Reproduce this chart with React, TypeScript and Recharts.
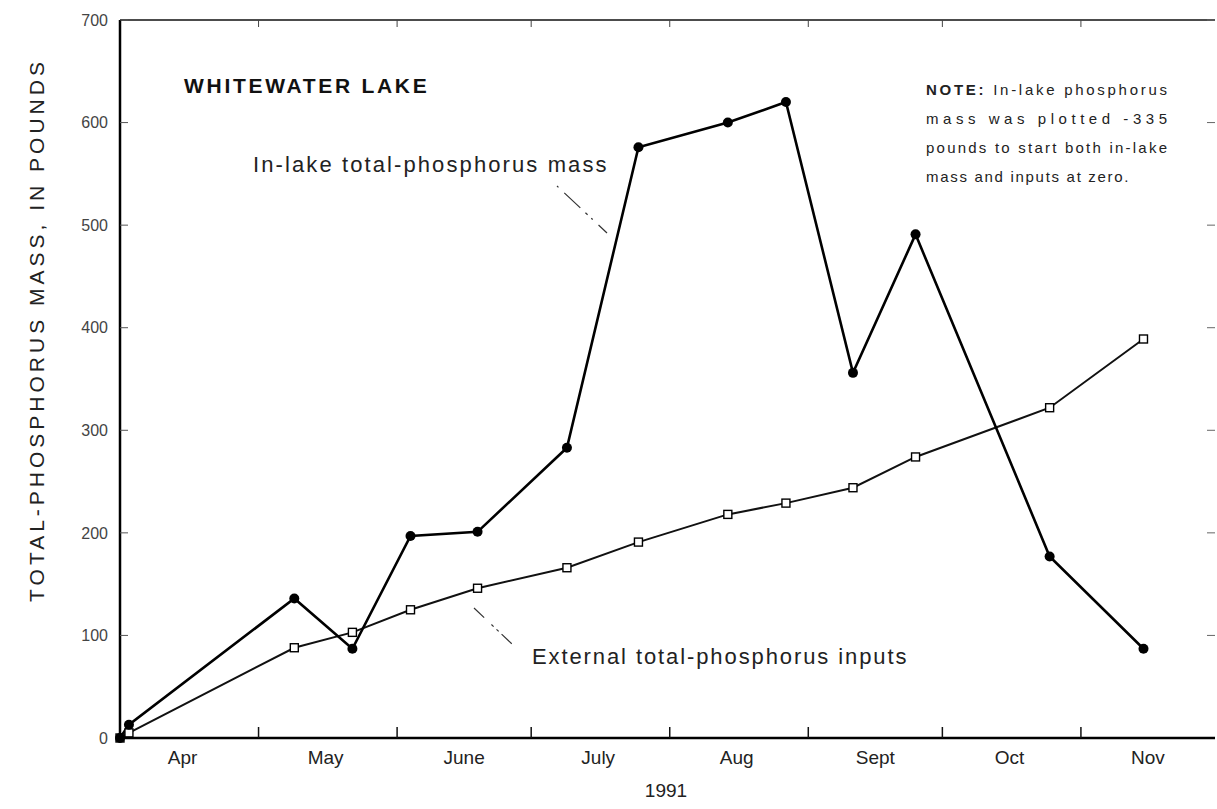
import React from 'react';
import { LineChart, Line, XAxis, YAxis } from 'recharts';

// days counted from March 31, 1991
const sampleDays = [0, 2, 39, 52, 65, 80, 100, 116, 136, 149, 164, 178, 208, 229];
const inLakeMass = [0, 13, 136, 87, 197, 201, 283, 576, 600, 620, 356, 491, 177, 87];
const externalInputs = [0, 5, 88, 103, 125, 146, 166, 191, 218, 229, 244, 274, 322, 389];

const monthStarts = [31, 62, 92, 123, 154, 184, 215];
const monthMids = [14, 46, 77, 107, 138, 169, 199, 230];
const monthLabels = ['Apr', 'May', 'June', 'July', 'Aug', 'Sept', 'Oct', 'Nov'];
const yTicks = [0, 100, 200, 300, 400, 500, 600, 700];

const data = sampleDays.map((day, i) => ({
  day,
  mass: inLakeMass[i],
  inputs: externalInputs[i],
}));

const FONT = '"Liberation Sans", Arial, Helvetica, sans-serif';
const GAP = 12;
const TEXT = '#222';

const BottomTick = ({ x, y, payload }: any) => {
  const v = payload.value;
  const idx = monthMids.indexOf(v);
  if (idx >= 0) {
    return (
      <text x={x} y={y} dy="0.75em" textAnchor="middle" fontSize={19} fill={TEXT} fontFamily={FONT}>
        {monthLabels[idx]}
      </text>
    );
  }
  return <line x1={x} x2={x} y1={y - GAP} y2={y - GAP - 11} stroke="#111" strokeWidth={1.5} />;
};

const TopTick = ({ x, y }: any) => (
  <line x1={x} x2={x} y1={y + GAP} y2={y + GAP + 7} stroke="#444" strokeWidth={1} />
);

const LeftTick = ({ x, y, payload }: any) => (
  <g>
    <text x={x} y={y} dy="0.36em" textAnchor="end" fontSize={16} fill="#444" fontFamily={FONT}>
      {payload.value}
    </text>
    {payload.value > 0 && (
      <line x1={x + GAP} x2={x + GAP + 8} y1={y} y2={y} stroke="#555" strokeWidth={1} />
    )}
  </g>
);

const RightTick = ({ x, y, payload }: any) =>
  payload.value > 0 ? (
    <line x1={x - GAP} x2={x - GAP - 8} y1={y} y2={y} stroke="#666" strokeWidth={1} />
  ) : null;

const FilledDot = ({ cx, cy }: any) => <circle cx={cx} cy={cy} r={5} fill="#000" />;
const OpenDot = ({ cx, cy }: any) => (
  <rect x={cx - 4} y={cy - 4} width={8} height={8} fill="#fff" stroke="#000" strokeWidth={1.4} />
);

export default function App() {
  return (
    <div style={{ position: 'absolute', left: 0, top: 0, width: 1217, height: 809, background: '#fff', fontFamily: FONT }}>
      <LineChart width={1217} height={809} data={data} margin={{ top: 19, right: 1, bottom: 70, left: 119 }}>
        <XAxis
          xAxisId="bottom"
          dataKey="day"
          type="number"
          domain={[0, 245]}
          ticks={[...monthStarts, ...monthMids].sort((a, b) => a - b)}
          interval={0}
          height={1}
          tickSize={0}
          tickMargin={GAP}
          tick={<BottomTick />}
          axisLine={{ stroke: '#000', strokeWidth: 2.5 }}
        />
        <XAxis
          xAxisId="top"
          orientation="top"
          dataKey="day"
          type="number"
          domain={[0, 245]}
          ticks={monthStarts}
          interval={0}
          height={1}
          tickSize={0}
          tickMargin={GAP}
          tick={<TopTick />}
          axisLine={{ stroke: '#111', strokeWidth: 1.5 }}
        />
        <YAxis
          yAxisId="left"
          type="number"
          domain={[0, 700]}
          ticks={yTicks}
          interval={0}
          width={1}
          tickSize={0}
          tickMargin={GAP}
          tick={<LeftTick />}
          axisLine={{ stroke: '#000', strokeWidth: 2.5 }}
        />
        <YAxis
          yAxisId="right"
          orientation="right"
          type="number"
          domain={[0, 700]}
          ticks={yTicks}
          interval={0}
          width={1}
          tickSize={0}
          tickMargin={GAP}
          tick={<RightTick />}
          axisLine={false}
        />
        <Line
          xAxisId="top"
          yAxisId="right"
          dataKey="inputs"
          stroke="none"
          dot={false}
          activeDot={false}
          isAnimationActive={false}
        />
        <Line
          xAxisId="bottom"
          yAxisId="left"
          dataKey="inputs"
          type="linear"
          stroke="#111"
          strokeWidth={2}
          dot={<OpenDot />}
          isAnimationActive={false}
        />
        <Line
          xAxisId="bottom"
          yAxisId="left"
          dataKey="mass"
          type="linear"
          stroke="#000"
          strokeWidth={2.6}
          dot={<FilledDot />}
          isAnimationActive={false}
        />
      </LineChart>
      <svg
        width={1217}
        height={809}
        style={{ position: 'absolute', left: 0, top: 0, pointerEvents: 'none' }}
        fontFamily={FONT}
      >
        <text x={36} y={330} transform="rotate(-90 36 330)" textAnchor="middle" dy="0.36em" fontSize={21} letterSpacing={4} fill={TEXT}>
          TOTAL-PHOSPHORUS MASS, IN POUNDS
        </text>
        <text x={666} y={797} textAnchor="middle" fontSize={19} fill={TEXT}>1991</text>
        <text x={184} y={93} fontSize={21} fontWeight="bold" letterSpacing={2.7} fill="#111">
          WHITEWATER LAKE
        </text>
        <text x={253} y={172} fontSize={22} letterSpacing={2.1} fill={TEXT}>
          In-lake total-phosphorus mass
        </text>
        <text x={532} y={664} fontSize={22} letterSpacing={1.9} fill={TEXT}>
          External total-phosphorus inputs
        </text>
        <line x1={557} y1={186} x2={607} y2={233} stroke="#333" strokeWidth={1.2} strokeDasharray="2 8 22 7 3 5" />
        <line x1={474} y1={608} x2={512} y2={644} stroke="#333" strokeWidth={1.2} strokeDasharray="14 10 3 4 3 4" />
        <g fontSize={15} fill={TEXT}>
          <text x={926} y={95} textLength={241} lengthAdjust="spacing">
            <tspan fontWeight="bold">NOTE:</tspan> In-lake phosphorus
          </text>
          <text x={926} y={124} textLength={241} lengthAdjust="spacing">mass was plotted -335</text>
          <text x={926} y={153} textLength={241} lengthAdjust="spacing">pounds to start both in-lake</text>
          <text x={926} y={182} letterSpacing={1.7}>mass and inputs at zero.</text>
        </g>
      </svg>
    </div>
  );
}
